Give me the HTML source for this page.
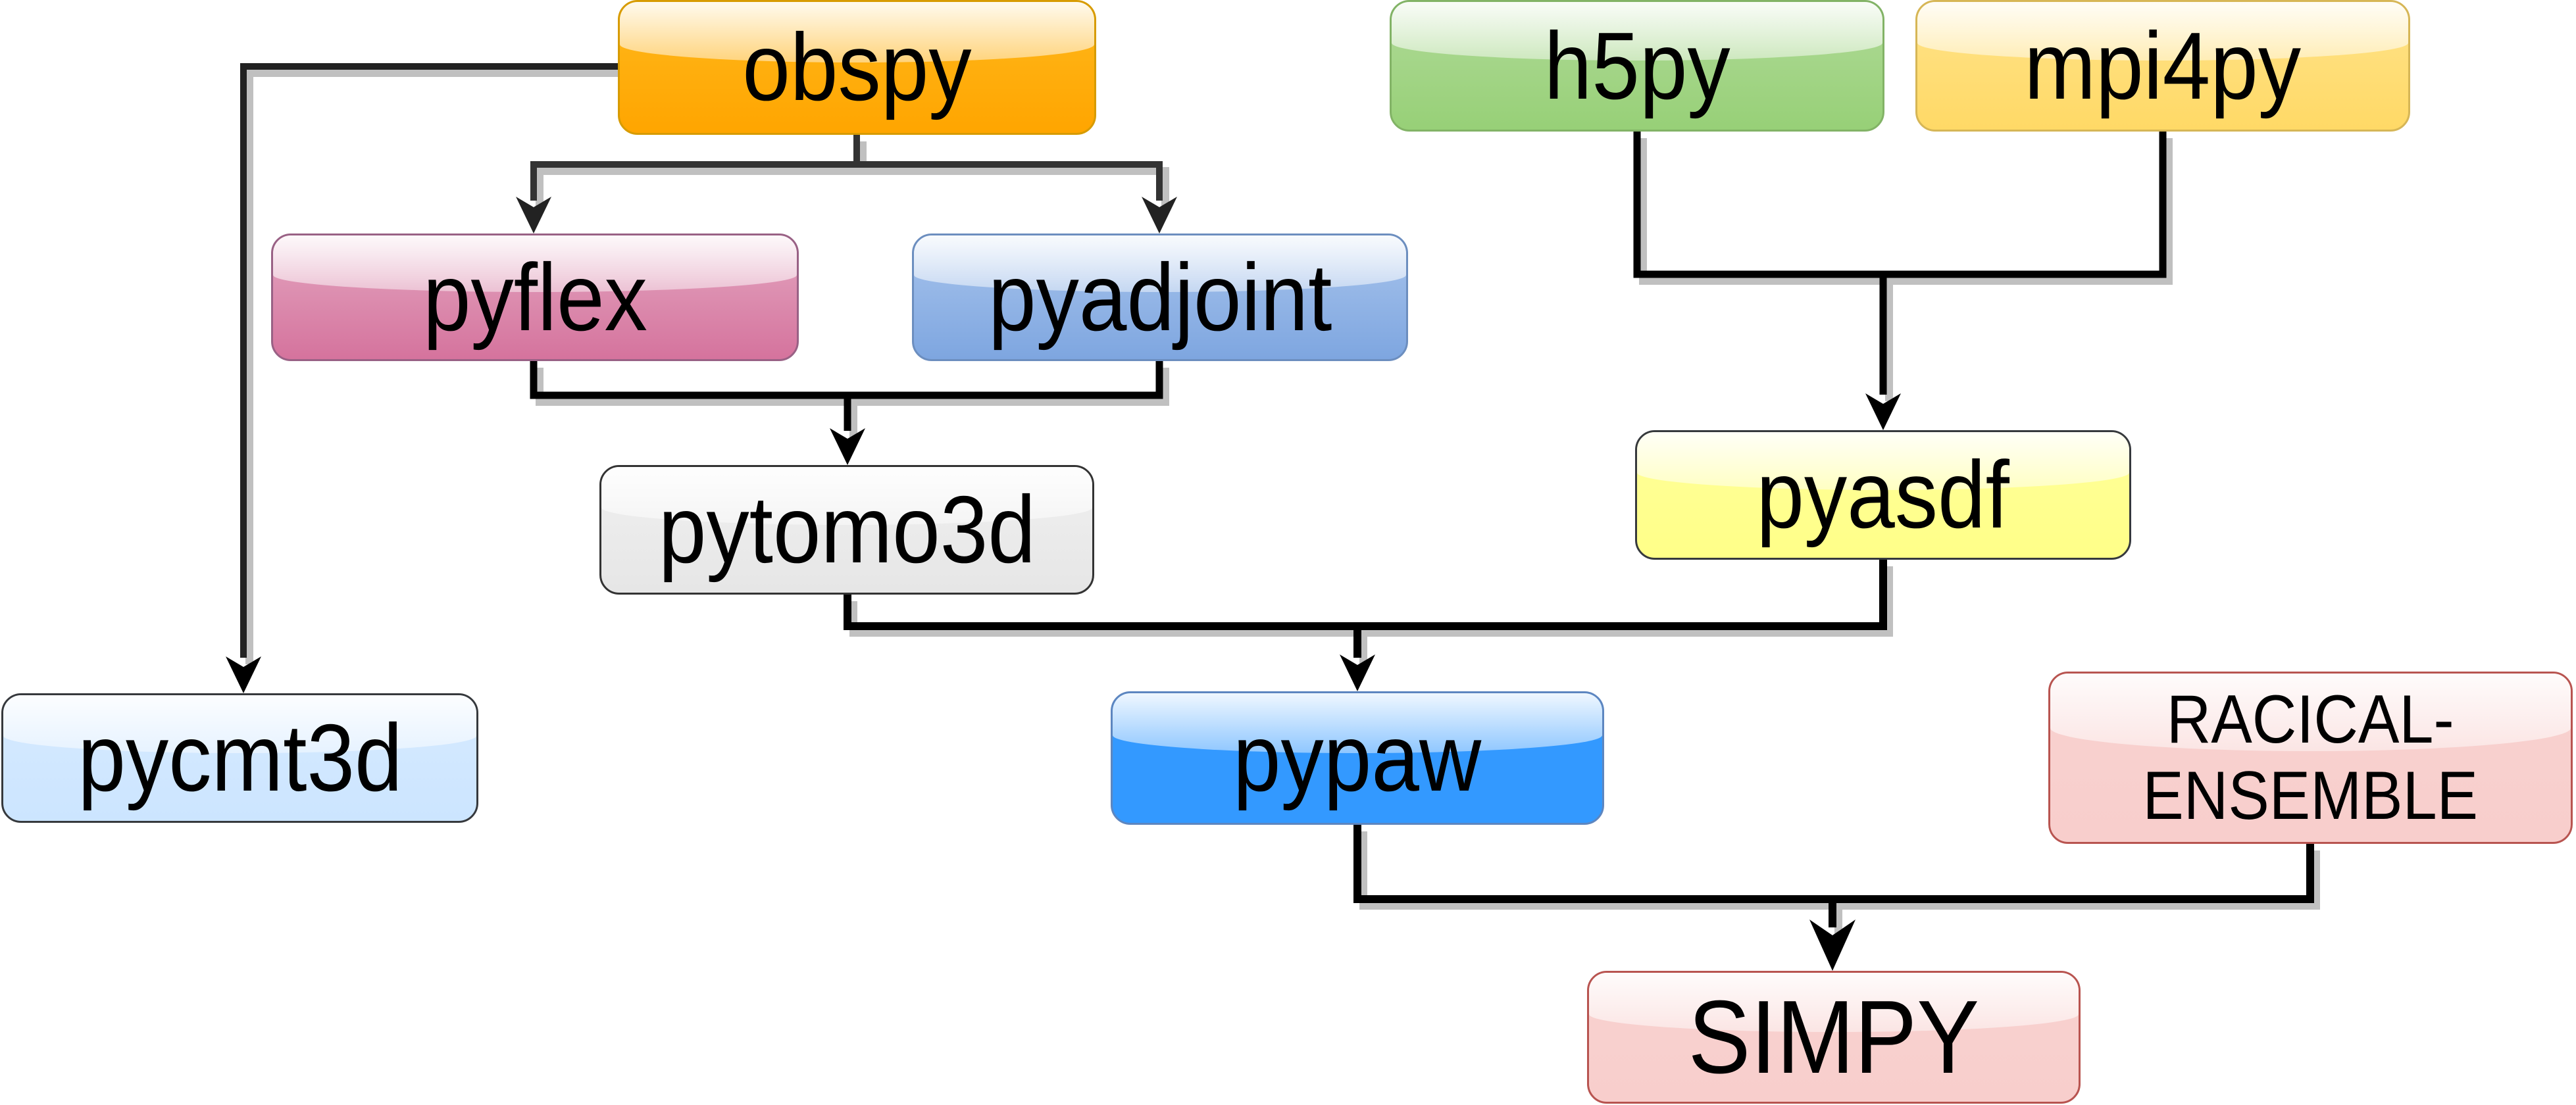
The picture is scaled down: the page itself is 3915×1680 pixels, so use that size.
<!DOCTYPE html>
<html><head><meta charset="utf-8"><style>
html,body{margin:0;padding:0;background:#fff;}
body{width:3915px;height:1680px;position:relative;overflow:hidden;font-family:"Liberation Sans",Arial,sans-serif;}
svg{position:absolute;left:0;top:0;}
.b{position:absolute;box-sizing:border-box;border:3px solid;border-radius:30px;overflow:hidden;display:flex;align-items:center;justify-content:center;font-size:145px;color:#000;}
.b::before{content:"";position:absolute;left:0;right:0;top:0;height:46%;background:linear-gradient(rgba(255,255,255,.92),rgba(255,255,255,.45));border-radius:0 0 50% 50% / 0 0 30% 30%;}
.b span{position:relative;line-height:1;transform:scaleX(0.9);display:inline-block;}
</style></head><body>
<svg width="3915" height="1680" viewBox="0 0 3915 1680">
<g fill="none" stroke="#c0c0c0" stroke-width="12" transform="translate(9,10)">
<path d="M939,101 H370 V1000"/>
<path d="M1302,205 V250 H811 V305 M1302,250 H1762 V305"/>
<path d="M811,549 V601 H1762 V549 M1288,601 V655"/>
<path d="M2488,200 V417 H3287 V200 M2862,417 V600"/>
<path d="M1288,904 V952 H2862 V851 M2063,952 V1000"/>
<path d="M2063,1254 V1367 H3511 V1283 M2785,1367 V1410"/>
</g>
<g fill="none" stroke-linejoin="miter">
<path stroke="#222" stroke-width="10" d="M939,101 H370 V1000"/>
<path stroke="#333" stroke-width="10" d="M1302,205 V250 H811 V305 M1302,250 H1762 V305"/>
<path stroke="#000" stroke-width="11" d="M811,549 V601 H1762 V549 M1288,601 V655"/>
<path stroke="#000" stroke-width="11" d="M2488,200 V417 H3287 V200 M2862,417 V600"/>
<path stroke="#000" stroke-width="12" d="M1288,904 V952 H2862 V851 M2063,952 V1000"/>
<path stroke="#000" stroke-width="12" d="M2063,1254 V1367 H3511 V1283 M2785,1367 V1410"/>
</g>
<g fill="#000">
<polygon points="370,1054 343,998 370,1014 397,998"/>
<polygon fill="#222" points="811,355 784,299 811,315 838,299"/>
<polygon fill="#222" points="1762,355 1735,299 1762,315 1789,299"/>
<polygon points="1288,707 1261,651 1288,667 1315,651"/>
<polygon points="2862,654 2835,598 2862,614 2889,598"/>
<polygon points="2063,1051 2036,995 2063,1011 2090,995"/>
<polygon points="2785,1476 2750,1398 2785,1422 2820,1398"/>
</g>
</svg>

<div class="b" style="left:939px;top:0;width:727px;height:205px;border-color:#d79b00;background:linear-gradient(#ffb81c,#ffa500);"><span>obspy</span></div>
<div class="b" style="left:2112px;top:0;width:752px;height:200px;border-color:#82b366;background:linear-gradient(#b0da98,#97d077);"><span>h5py</span></div>
<div class="b" style="left:2911px;top:0;width:752px;height:200px;border-color:#d6b656;background:linear-gradient(#ffe38a,#ffd966);"><span>mpi4py</span></div>
<div class="b" style="left:412px;top:355px;width:802px;height:194px;border-color:#996185;background:linear-gradient(#e3a6c0,#d5739d);"><span>pyflex</span></div>
<div class="b" style="left:1386px;top:355px;width:754px;height:194px;border-color:#6c8ebf;background:linear-gradient(#a8c4ec,#7ea6e0);"><span>pyadjoint</span></div>
<div class="b" style="left:911px;top:707px;width:752px;height:197px;border-color:#333;background:linear-gradient(#f0f0f0,#e6e6e6);"><span>pytomo3d</span></div>
<div class="b" style="left:2485px;top:654px;width:754px;height:197px;border-color:#36393d;background:linear-gradient(#ffff99,#ffff88);"><span>pyasdf</span></div>
<div class="b" style="left:2px;top:1054px;width:725px;height:197px;border-color:#36393d;background:linear-gradient(#d6eaff,#cce5ff);"><span>pycmt3d</span></div>
<div class="b" style="left:1688px;top:1051px;width:750px;height:203px;border-color:#5d86c0;background:linear-gradient(#3399ff,#3399ff);"><span>pypaw</span></div>
<div class="b" style="left:3113px;top:1021px;width:797px;height:262px;border-color:#b85450;background:linear-gradient(#f8d2d0,#f8cecc);font-size:104px;text-align:center;"><span style="line-height:1.12">RACICAL-<br>ENSEMBLE</span></div>
<div class="b" style="left:2412px;top:1476px;width:750px;height:202px;border-color:#b85450;background:linear-gradient(#f8d2d0,#f8cecc);font-size:158px;"><span>SIMPY</span></div>
</body></html>
